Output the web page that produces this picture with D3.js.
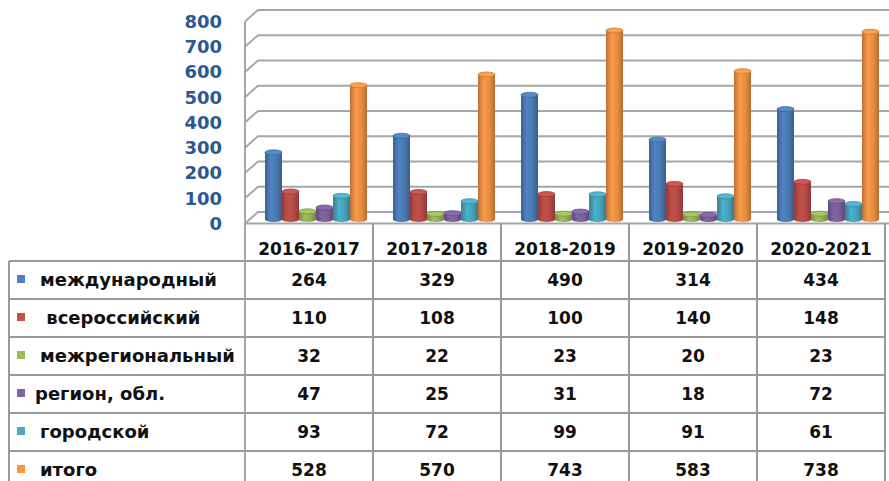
<!DOCTYPE html>
<html lang="ru">
<head>
<meta charset="utf-8" />
<title>Конкурсы по годам</title>
<script src="https://cdnjs.cloudflare.com/ajax/libs/d3/7.8.5/d3.min.js"></script>
<style>
    body { margin: 0; background: #fff; }
    text { font-family: "DejaVu Sans", sans-serif; font-weight: bold; }
    .row-label { white-space: pre; }
</style>
</head>
<body>
<script>
    // data
    const years = ["2016-2017", "2017-2018", "2018-2019", "2019-2020", "2020-2021"];
    const seriesNames = ["международный", " всероссийский", "межрегиональный", "регион, обл.", "городской", "итого"];
    const seriesColors = ["#4F81BD", "#C0504D", "#9BBB59", "#8064A2", "#4BACC6", "#F79646"];
    const international = [264, 329, 490, 314, 434];
    const allRussian = [110, 108, 100, 140, 148];
    const interregional = [32, 22, 23, 20, 23];
    const regional = [47, 25, 31, 18, 72];
    const city = [93, 72, 99, 91, 61];
    const total = [528, 570, 743, 583, 738];
    const seriesValues = [international, allRussian, interregional, regional, city, total];
    const yTicks = [0, 100, 200, 300, 400, 500, 600, 700, 800];

    const W = 889, H = 481;
    const depthX = 13, depthY = 11.5;   // fake 3d wall depth
    const plotLeft = 245, plotRight = 885;
    const tableLeft = 9, headerBottom = 261, rowH = 38;

    const svg = d3.select("body").append("svg")
        .attr("width", W)
        .attr("height", H);

    // scales
    const x = d3.scaleBand().domain(years).range([plotLeft, plotRight]);
    const xs = d3.scaleBand().domain(d3.range(seriesNames.length)).range([20, 122]);
    const yBack = d3.scaleLinear().domain([0, 800]).range([212, 10]);
    const yBar = d3.scaleLinear().domain([0, 800]).range([219.5, 16]);
    const rowY = d3.scaleBand().domain(d3.range(seriesNames.length))
        .range([headerBottom, headerBottom + rowH * seriesNames.length]);

    // gradients for the cylinders
    const defs = svg.append("defs");
    seriesColors.forEach((c, i) => {
        const base = d3.color(c);
        const grad = defs.append("linearGradient").attr("id", "cyl" + i)
            .attr("x1", "0%").attr("x2", "100%").attr("y1", "0%").attr("y2", "0%");
        grad.append("stop").attr("offset", "0%").attr("stop-color", base.darker(0.8));
        grad.append("stop").attr("offset", "35%").attr("stop-color", base.brighter(0.05));
        grad.append("stop").attr("offset", "70%").attr("stop-color", base.darker(0.2));
        grad.append("stop").attr("offset", "100%").attr("stop-color", base.darker(0.9));
    });

    // walls and gridlines
    const grid = svg.append("g")
        .attr("fill", "none")
        .attr("stroke", "#a6a6a6")
        .attr("stroke-width", 2);

    yTicks.forEach(t => {
        const yb = yBack(t);
        grid.append("path")
            .attr("d", `M${plotLeft},${yb + depthY}L${plotLeft + depthX},${yb}L${W},${yb}`);
    });

    // front edge of the left wall + floor
    grid.append("line")
        .attr("x1", plotLeft).attr("x2", plotLeft)
        .attr("y1", yBack(800) + depthY).attr("y2", H);
    grid.append("line")
        .attr("x1", plotLeft).attr("x2", W)
        .attr("y1", yBack(0) + depthY).attr("y2", yBack(0) + depthY);

    // y axis labels
    svg.append("g").selectAll("text")
        .data(yTicks)
        .join("text")
        .attr("x", 222)
        .attr("y", d => yBack(d) + depthY)
        .attr("dy", "0.36em")
        .attr("text-anchor", "end")
        .attr("fill", "#2B5797")
        .style("font-size", "18px")
        .text(d => d);

    // bars
    const bars = svg.append("g");
    seriesValues.forEach((vals, s) => {
        const g = bars.append("g");
        const w = xs.bandwidth();
        const rx = w / 2, ry = 2.5;
        const base = d3.color(seriesColors[s]);

        g.selectAll("ellipse.bottom")
            .data(vals)
            .join("ellipse")
            .attr("class", "bottom")
            .attr("cx", (d, i) => x(years[i]) + xs(s) + rx)
            .attr("cy", yBar(0))
            .attr("rx", rx).attr("ry", ry)
            .attr("fill", `url(#cyl${s})`);

        g.selectAll("rect")
            .data(vals)
            .join("rect")
            .attr("x", (d, i) => x(years[i]) + xs(s))
            .attr("y", d => yBar(d))
            .attr("width", w)
            .attr("height", d => yBar(0) - yBar(d))
            .attr("fill", `url(#cyl${s})`);

        g.selectAll("ellipse.top")
            .data(vals)
            .join("ellipse")
            .attr("class", "top")
            .attr("cx", (d, i) => x(years[i]) + xs(s) + rx)
            .attr("cy", d => yBar(d))
            .attr("rx", rx).attr("ry", ry)
            .attr("fill", base.brighter(0.2))
            .attr("stroke", base.darker(0.6))
            .attr("stroke-width", 0.8);
    });

    // data table
    const table = svg.append("g")
        .attr("stroke", "#9a9a9a")
        .attr("stroke-width", 2);

    // column separators, header part goes up to the floor
    years.forEach((yr, i) => {
        if (i > 0) {
            table.append("line")
                .attr("x1", x(yr)).attr("x2", x(yr))
                .attr("y1", yBack(0) + depthY).attr("y2", H);
        }
    });
    table.append("line")
        .attr("x1", plotRight).attr("x2", plotRight)
        .attr("y1", yBack(0) + depthY).attr("y2", H);
    table.append("line")
        .attr("x1", tableLeft).attr("x2", tableLeft)
        .attr("y1", headerBottom).attr("y2", H);

    d3.range(seriesNames.length + 1).forEach(i => {
        const yy = headerBottom + i * rowH;
        table.append("line")
            .attr("x1", tableLeft).attr("x2", plotRight)
            .attr("y1", yy).attr("y2", yy);
    });

    // header labels
    svg.append("g").selectAll("text")
        .data(years)
        .join("text")
        .attr("x", d => x(d) + x.bandwidth() / 2)
        .attr("y", 249)
        .attr("dy", "0.36em")
        .attr("text-anchor", "middle")
        .attr("fill", "#111")
        .style("font-size", "17px")
        .text(d => d);

    // row labels with legend keys
    const rows = svg.append("g").selectAll("g")
        .data(seriesNames)
        .join("g")
        .attr("transform", (d, i) => `translate(0,${rowY(i) + rowH / 2})`);

    rows.append("rect")
        .attr("x", 17)
        .attr("y", -5)
        .attr("width", 8)
        .attr("height", 8)
        .attr("fill", (d, i) => seriesColors[i]);

    rows.append("text")
        .attr("class", "row-label")
        .attr("x", (d, i) => i === 3 ? 35 : 40)
        .attr("dy", "0.36em")
        .attr("fill", "#111")
        .style("font-size", "18px")
        .text(d => d);

    // values
    rows.each(function (name, s) {
        d3.select(this).selectAll("text.val")
            .data(seriesValues[s])
            .join("text")
            .attr("class", "val")
            .attr("x", (d, i) => x(years[i]) + x.bandwidth() / 2)
            .attr("dy", "0.36em")
            .attr("text-anchor", "middle")
            .attr("fill", "#111")
            .style("font-size", "17px")
            .text(d => d);
    });
</script>
</body>
</html>
